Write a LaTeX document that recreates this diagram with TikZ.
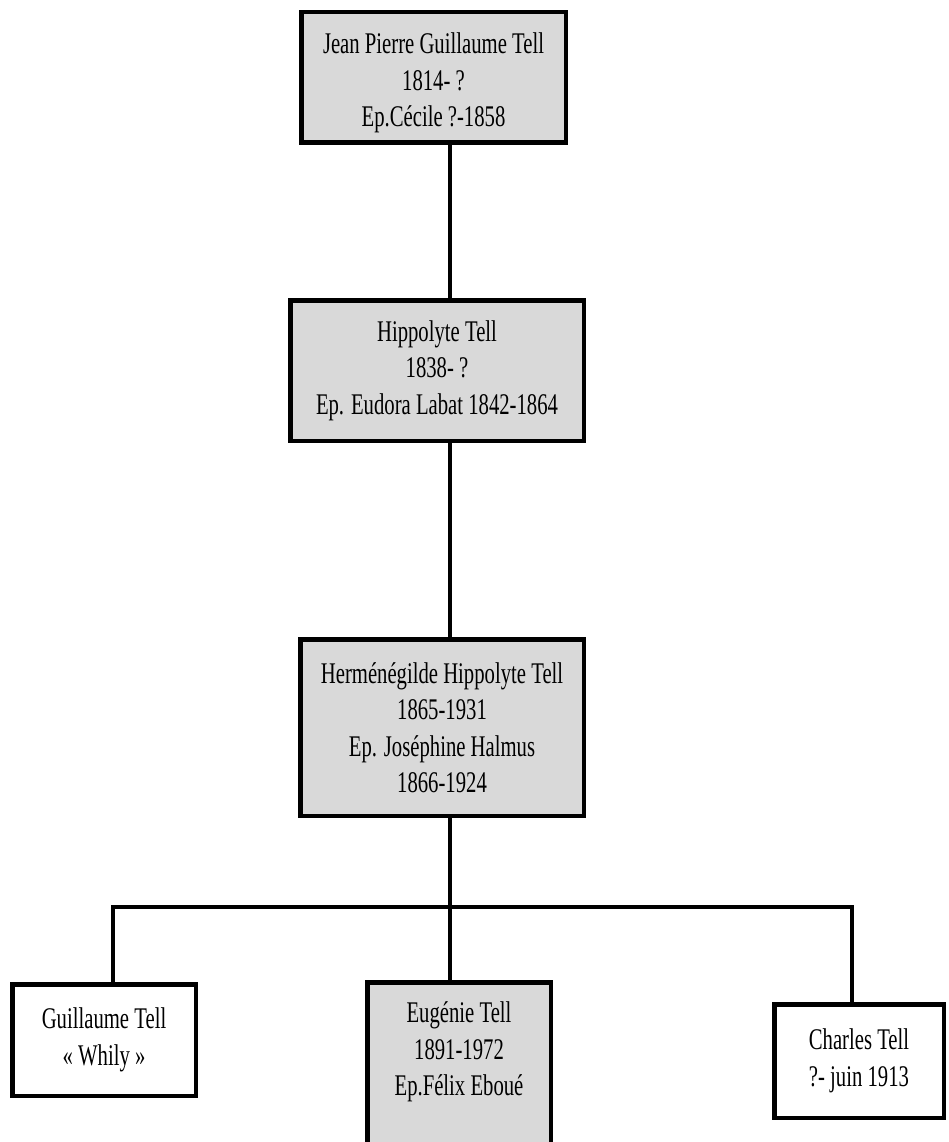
\documentclass[tikz,border=0pt]{standalone}
\usepackage{fontspec}
\setmainfont{Liberation Serif}[FakeStretch=0.69]
\definecolor{boxgray}{RGB}{217,217,217}
\begin{document}
\begin{tikzpicture}[x=1pt,y=-1pt,
  txt/.style={inner sep=0pt,align=center,font=\fontsize{30}{36.5}\selectfont},
  person/.style={txt,draw=black,line width=4.5pt},
  grayp/.style={person,fill=boxgray},
  whitep/.style={person,fill=white},
  link/.style={line width=3.2pt,line cap=rect}]
\useasboundingbox (0,0) rectangle (948,1142);
\clip (0,0) rectangle (948,1142);
\coordinate (spine) at (450,0);
\node[grayp,minimum width=264.5pt,minimum height=130.5pt] (b1) at (433.5,77.5) {};
\node[txt] (t1) at (433.5,83)
  {Jean Pierre Guillaume Tell\\1814- ?\\Ep.Cécile ?-1858};
\node[grayp,minimum width=293.5pt,minimum height=140.5pt] (b2) at (437,370.5)
  {Hippolyte Tell\\1838- ?\\Ep. Eudora Labat 1842-1864};
\node[grayp,minimum width=283.5pt,minimum height=176.5pt] (b3) at (442,727.5)
  {Herménégilde Hippolyte Tell\\1865-1931\\Ep. Joséphine Halmus\\1866-1924};
\node[whitep,minimum width=183.5pt,minimum height=111.5pt] (b4) at (104,1040)
  {Guillaume Tell\\« Whily »};
\node[grayp,minimum width=183.5pt,minimum height=215.5pt] (b5) at (459,1090) {};
\node[txt] (t5) at (459,1052)
  {Eugénie Tell\\1891-1972\\Ep.Félix Eboué};
\node[whitep,minimum width=169.5pt,minimum height=113.5pt] (b6) at (859,1061)
  {Charles Tell\\?- juin 1913};
\coordinate (barL) at (113,907);
\coordinate (barR) at (852,907);
\draw[link] (b1.south -| spine) -- (b2.north -| spine);
\draw[link] (b2.south -| spine) -- (b3.north -| spine);
\draw[link] (b3.south -| spine) -- (b5.north -| spine);
\draw[link] (barL) -- (barR);
\draw[link] (barL) -- (b4.north -| barL);
\draw[link] (barR) -- (b6.north -| barR);
\end{tikzpicture}
\end{document}
